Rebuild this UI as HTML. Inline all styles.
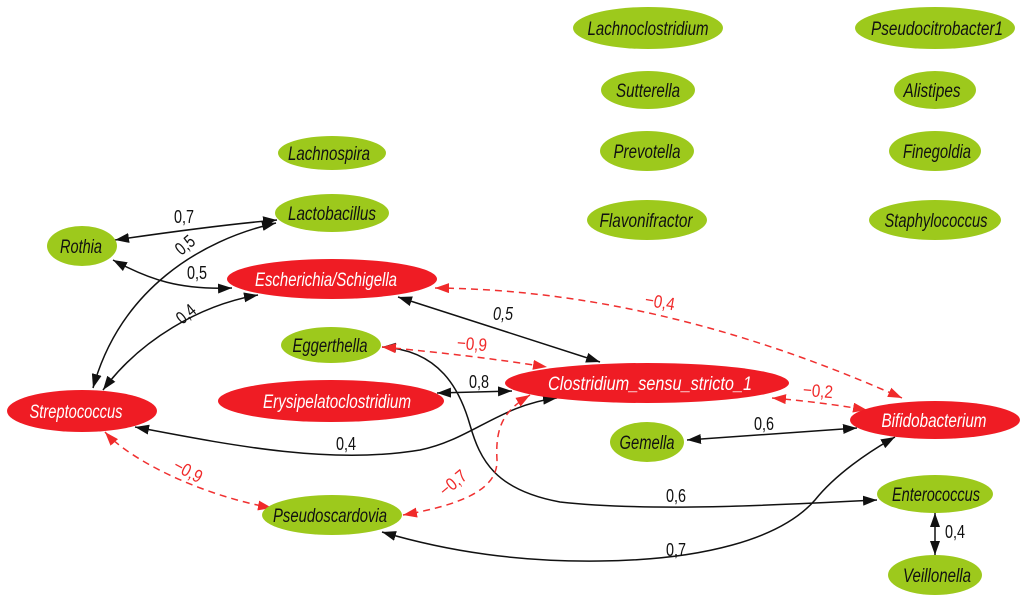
<!DOCTYPE html>
<html>
<head>
<meta charset="utf-8">
<style>
html,body{margin:0;padding:0;background:#fff;}
svg{display:block;}
.n{font-family:"Liberation Sans",sans-serif;font-style:italic;font-size:19.5px;text-anchor:middle;}
.g{fill:#9dc91c;}
.r{fill:#ef1c24;}
.tb{fill:#111;}
.tw{fill:#fff;}
.l{font-family:"Liberation Sans",sans-serif;font-size:18px;text-anchor:middle;fill:#111;}
.lr{font-family:"Liberation Sans",sans-serif;font-size:18px;text-anchor:middle;fill:#f02a2a;}
.e{fill:none;stroke:#111;stroke-width:1.5;}
.d{fill:none;stroke:#f03030;stroke-width:1.5;stroke-dasharray:7,5;}
</style>
</head>
<body>
<svg width="1024" height="607" viewBox="0 0 1024 607" xmlns="http://www.w3.org/2000/svg">
<defs>
<marker id="ab" markerUnits="userSpaceOnUse" markerWidth="14" markerHeight="10" viewBox="0 0 14 10" refX="14" refY="5" orient="auto-start-reverse">
<path d="M0,0 L14,5 L0,10 z" fill="#111"/>
</marker>
<marker id="ar" markerUnits="userSpaceOnUse" markerWidth="14" markerHeight="10" viewBox="0 0 14 10" refX="14" refY="5" orient="auto-start-reverse">
<path d="M0,0 L14,5 L0,10 z" fill="#f02a2a"/>
</marker>
</defs>

<!-- edges black -->
<path class="e" d="M115,240 C170,232 230,224 277,220" marker-start="url(#ab)" marker-end="url(#ab)"/>
<path class="e" d="M276,223 C200,240 120,290 93,388" marker-start="url(#ab)" marker-end="url(#ab)"/>
<path class="e" d="M113,260 C150,280 180,290 232,288" marker-start="url(#ab)" marker-end="url(#ab)"/>
<path class="e" d="M103,390 C140,340 200,305 258,295" marker-start="url(#ab)" marker-end="url(#ab)"/>
<path class="e" d="M398,297 L600,362" marker-start="url(#ab)" marker-end="url(#ab)"/>
<path class="e" d="M437,393 L512,391" marker-start="url(#ab)" marker-end="url(#ab)"/>
<path class="e" d="M135,427 C230,445 330,465 420,450 C470,440 500,405 557,398" marker-start="url(#ab)" marker-end="url(#ab)"/>
<path class="e" d="M382,347 C440,350 460,390 470,425 C480,460 495,490 560,502 C650,512 780,505 877,500" marker-start="url(#ab)" marker-end="url(#ab)"/>
<path class="e" d="M687,440 L857,428" marker-start="url(#ab)" marker-end="url(#ab)"/>
<path class="e" d="M382,532 C450,552 520,562 600,561 C700,560 780,540 815,500 C835,475 868,452 895,437" marker-start="url(#ab)" marker-end="url(#ab)"/>
<path class="e" d="M935,513 L935,555" marker-start="url(#ab)" marker-end="url(#ab)"/>

<!-- edges red dashed -->
<path class="d" d="M435,288 Q660,290 902,398" marker-start="url(#ar)" marker-end="url(#ar)"/>
<path class="d" d="M382,347 Q470,355 547,367" marker-start="url(#ar)" marker-end="url(#ar)"/>
<path class="d" d="M105,432 C130,460 200,495 272,508" marker-start="url(#ar)" marker-end="url(#ar)"/>
<path class="d" d="M530,395 C505,410 495,425 497,460 C498,490 460,505 403,515" marker-start="url(#ar)" marker-end="url(#ar)"/>
<path class="d" d="M772,398 Q820,402 867,410" marker-start="url(#ar)" marker-end="url(#ar)"/>

<!-- nodes -->
<ellipse class="g" cx="648" cy="28" rx="75" ry="21"/>
<text class="n tb" x="648" y="35" textLength="121" lengthAdjust="spacingAndGlyphs">Lachnoclostridium</text>
<ellipse class="g" cx="935" cy="28" rx="80" ry="21"/>
<text class="n tb" x="937" y="35" textLength="132" lengthAdjust="spacingAndGlyphs">Pseudocitrobacter1</text>
<ellipse class="g" cx="648" cy="90" rx="47" ry="19"/>
<text class="n tb" x="648" y="97" textLength="64" lengthAdjust="spacingAndGlyphs">Sutterella</text>
<ellipse class="g" cx="935" cy="90" rx="41" ry="19"/>
<text class="n tb" x="932" y="97" textLength="57" lengthAdjust="spacingAndGlyphs">Alistipes</text>
<ellipse class="g" cx="647" cy="151" rx="47" ry="20"/>
<text class="n tb" x="647" y="158" textLength="67" lengthAdjust="spacingAndGlyphs">Prevotella</text>
<ellipse class="g" cx="935" cy="151" rx="46" ry="20"/>
<text class="n tb" x="937" y="158" textLength="68" lengthAdjust="spacingAndGlyphs">Finegoldia</text>
<ellipse class="g" cx="647" cy="220" rx="60" ry="20"/>
<text class="n tb" x="646" y="227" textLength="93" lengthAdjust="spacingAndGlyphs">Flavonifractor</text>
<ellipse class="g" cx="935" cy="220" rx="66" ry="20"/>
<text class="n tb" x="936" y="227" textLength="103" lengthAdjust="spacingAndGlyphs">Staphylococcus</text>
<ellipse class="g" cx="332" cy="153" rx="54" ry="17"/>
<text class="n tb" x="329" y="160" textLength="82" lengthAdjust="spacingAndGlyphs">Lachnospira</text>
<ellipse class="g" cx="332" cy="213" rx="57" ry="19"/>
<text class="n tb" x="332" y="220" textLength="88" lengthAdjust="spacingAndGlyphs">Lactobacillus</text>
<ellipse class="g" cx="82" cy="246" rx="35" ry="20"/>
<text class="n tb" x="81" y="253" textLength="42" lengthAdjust="spacingAndGlyphs">Rothia</text>
<ellipse class="r" cx="332" cy="279" rx="105" ry="20"/>
<text class="n tw" x="326" y="286" textLength="142" lengthAdjust="spacingAndGlyphs">Escherichia/Schigella</text>
<ellipse class="g" cx="331" cy="345" rx="50" ry="18"/>
<text class="n tb" x="330" y="352" textLength="75" lengthAdjust="spacingAndGlyphs">Eggerthella</text>
<ellipse class="r" cx="331" cy="401" rx="113" ry="21"/>
<text class="n tw" x="337" y="408" textLength="148" lengthAdjust="spacingAndGlyphs">Erysipelatoclostridium</text>
<ellipse class="r" cx="82" cy="411" rx="75" ry="21"/>
<text class="n tw" x="76" y="418" textLength="93" lengthAdjust="spacingAndGlyphs">Streptococcus</text>
<ellipse class="r" cx="647" cy="383" rx="142" ry="20"/>
<text class="n tw" x="650" y="390" textLength="204" lengthAdjust="spacingAndGlyphs">Clostridium_sensu_stricto_1</text>
<ellipse class="r" cx="935" cy="420" rx="85" ry="19"/>
<text class="n tw" x="934" y="427" textLength="105" lengthAdjust="spacingAndGlyphs">Bifidobacterium</text>
<ellipse class="g" cx="647" cy="442" rx="37" ry="20"/>
<text class="n tb" x="647" y="449" textLength="55" lengthAdjust="spacingAndGlyphs">Gemella</text>
<ellipse class="g" cx="935" cy="494" rx="58" ry="19"/>
<text class="n tb" x="936" y="501" textLength="88" lengthAdjust="spacingAndGlyphs">Enterococcus</text>
<ellipse class="g" cx="935" cy="575" rx="47" ry="20"/>
<text class="n tb" x="937" y="582" textLength="68" lengthAdjust="spacingAndGlyphs">Veillonella</text>
<ellipse class="g" cx="332" cy="515" rx="70" ry="20"/>
<text class="n tb" x="330" y="522" textLength="114" lengthAdjust="spacingAndGlyphs">Pseudoscardovia</text>

<!-- edge labels -->
<text class="l" x="184" y="223" textLength="20" lengthAdjust="spacingAndGlyphs">0,7</text>
<text class="l" x="185" y="251" textLength="20" lengthAdjust="spacingAndGlyphs" transform="rotate(-40 185 245)">0,5</text>
<text class="l" x="197" y="279" textLength="20" lengthAdjust="spacingAndGlyphs">0,5</text>
<text class="l" x="186" y="320" textLength="20" lengthAdjust="spacingAndGlyphs" transform="rotate(-40 186 314)">0,4</text>
<text class="l" x="503" y="320" textLength="20" lengthAdjust="spacingAndGlyphs" font-style="italic">0,5</text>
<text class="lr" x="660" y="308" textLength="30" lengthAdjust="spacingAndGlyphs" transform="rotate(10 660 302)">−0,4</text>
<text class="lr" x="472" y="350" textLength="30" lengthAdjust="spacingAndGlyphs" transform="rotate(5 472 344)">−0,9</text>
<text class="l" x="479" y="388" textLength="20" lengthAdjust="spacingAndGlyphs">0,8</text>
<text class="l" x="346" y="450" textLength="20" lengthAdjust="spacingAndGlyphs">0,4</text>
<text class="lr" x="818" y="397" textLength="30" lengthAdjust="spacingAndGlyphs" transform="rotate(5 818 391)">−0,2</text>
<text class="l" x="764" y="430" textLength="20" lengthAdjust="spacingAndGlyphs">0,6</text>
<text class="l" x="676" y="502" textLength="20" lengthAdjust="spacingAndGlyphs">0,6</text>
<text class="l" x="676" y="556" textLength="20" lengthAdjust="spacingAndGlyphs">0,7</text>
<text class="l" x="955" y="538" textLength="20" lengthAdjust="spacingAndGlyphs">0,4</text>
<text class="lr" x="188" y="477" textLength="30" lengthAdjust="spacingAndGlyphs" transform="rotate(28 188 471)">−0,9</text>
<text class="lr" x="453" y="489" textLength="30" lengthAdjust="spacingAndGlyphs" transform="rotate(-40 453 483)">−0,7</text>
</svg>
</body>
</html>
